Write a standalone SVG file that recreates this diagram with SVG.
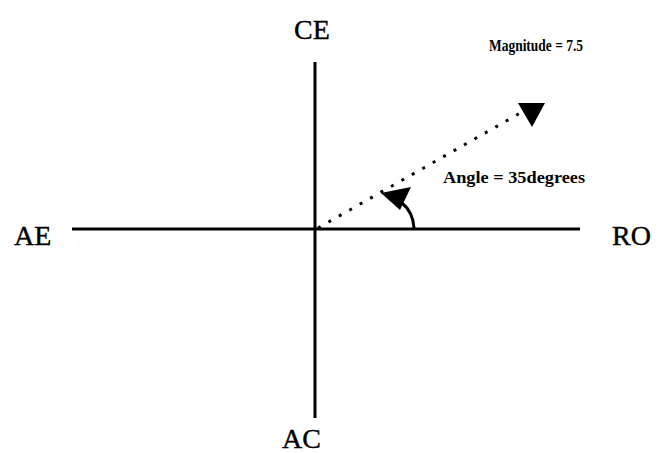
<svg xmlns="http://www.w3.org/2000/svg" width="662" height="453" viewBox="0 0 662 453">
<style>
.ax{stroke:#000;stroke-width:3;fill:none}
.lbl{font-family:"Liberation Serif",serif;font-size:28px;fill:#000;stroke:#000;stroke-width:0.4}
.sm{font-family:"Liberation Serif",serif;font-weight:bold;fill:#000}
</style>
<rect width="662" height="453" fill="#fff"/>
<g id="connectors">
<line class="ax" x1="315" y1="62" x2="315" y2="418"/>
<line class="ax" x1="72" y1="229" x2="580" y2="229"/>
<line x1="318" y1="228" x2="522" y2="112" stroke="#000" stroke-width="3" stroke-dasharray="3,9"/>
<polygon points="518,103 545,103 532,127" fill="#000"/>
<path d="M402,203 Q413,212 414,228" class="ax"/>
<polygon points="381,193 411,187 400,210" fill="#000"/>
</g>
<g id="CE"><text class="lbl" x="312" y="39" text-anchor="middle">CE</text></g>
<g id="AE"><text class="lbl" x="14" y="245">AE</text></g>
<g id="RO"><text class="lbl" x="612" y="245">RO</text></g>
<g id="AC"><text class="lbl" x="282" y="448">AC</text></g>
<g id="magnitude"><text class="sm" x="489" y="51" font-size="17" textLength="94" lengthAdjust="spacingAndGlyphs">Magnitude = 7.5</text></g>
<g id="angle"><text class="sm" x="443" y="183" font-size="16" textLength="142" lengthAdjust="spacingAndGlyphs">Angle = 35degrees</text></g>
</svg>
